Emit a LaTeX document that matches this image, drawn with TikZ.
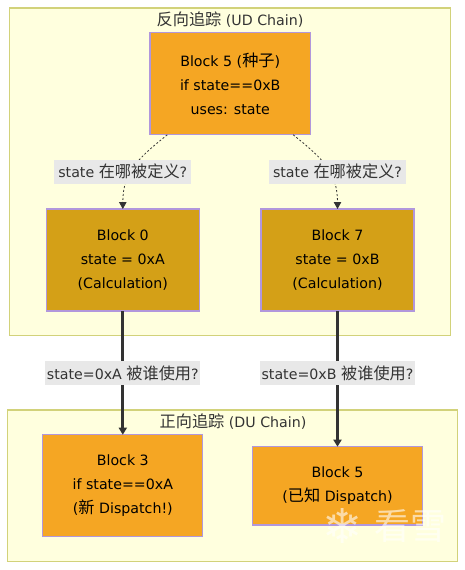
\documentclass[tikz,border=0pt]{standalone}
\usepackage{fontspec}
\setmainfont{DejaVu Sans}
\newfontfamily\cjk[Scale=1.14]{Noto Sans CJK SC}
\newfontfamily\markfont{Noto Sans CJK SC}
\usetikzlibrary{positioning,arrows.meta}
\definecolor{ChainFill}{HTML}{FFFFDE}
\definecolor{ChainLine}{HTML}{D2D27A}
\definecolor{SeedOrange}{HTML}{F5A623}
\definecolor{DefGold}{HTML}{D4A017}
\definecolor{BlockLine}{HTML}{B197DC}
\definecolor{EdgeGray}{HTML}{333333}
\definecolor{LabelGray}{HTML}{E8E8E8}

\begin{document}
\begin{tikzpicture}[
    x=1pt, y=-1pt,
    font=\fontsize{14.2}{24}\selectfont,
    chain/.style={
        rectangle, draw=ChainLine, fill=ChainFill,
        line width=1.2pt, inner sep=0pt, outer sep=0pt
    },
    title/.style={text=EdgeGray, inner sep=0pt},
    block/.style={
        rectangle, draw=BlockLine, fill=SeedOrange,
        line width=1.2pt, align=center, text=black,
        inner sep=0pt, outer sep=0pt, minimum height=102pt
    },
    defblock/.style={block, fill=DefGold, minimum width=153pt},
    asklabel/.style={
        rectangle, fill=LabelGray, text=EdgeGray,
        inner sep=0pt, minimum height=24pt
    },
    askarrow/.style={-{Triangle[length=7pt,width=7.5pt]}, EdgeGray, line width=0.8pt, dash pattern=on 2pt off 2pt},
    usearrow/.style={-{Triangle[length=7pt,width=8pt]}, EdgeGray, line width=3pt}
]
\useasboundingbox (0,0) rectangle (465,570);

\node[chain, minimum width=441pt, minimum height=327.5pt] (udchain) at (230,171.75) {};
\node[chain, minimum width=450pt, minimum height=151.7pt] (duchain) at (232.5,485.85) {};
\node[title] (udtitle) at (230,19.5) {{\cjk 反向追踪} (UD Chain)};
\node[title] (dutitle) at (233,421.7) {{\cjk 正向追踪} (DU Chain)};

\node[block, minimum width=160.5pt] (seed) at (230.25,83.8) {Block 5 ({\cjk 种子})\\if state==0xB\\uses: state};
\node[defblock] (blockA) at (122.8,260) {Block 0\\state = 0xA\\(Calculation)};
\node[defblock, right=61.7pt of blockA] (blockB) {Block 7\\state = 0xB\\(Calculation)};
\node[block, minimum width=160pt, below=123.7pt of blockA] (blockC) {Block 3\\if state==0xA\\({\cjk 新} Dispatch!)};
\node[block, minimum width=170.4pt, minimum height=78.3pt, below=135.7pt of blockB] (blockD) {Block 5\\({\cjk 已知} Dispatch)};

\draw[askarrow] (seed.219) to[out=219, in=90, looseness=1.1] (blockA.north);
\draw[askarrow] (seed.321) to[out=321, in=90, looseness=1.1] (blockB.north);
\draw[usearrow] (blockA) -- (blockC);
\draw[usearrow] (blockB) -- (blockD);

\node[asklabel, minimum width=137pt, above=25.3pt of blockA] (askA) {state {\cjk 在哪被定义}?};
\node[asklabel, minimum width=137pt, above=25.3pt of blockB] (askB) {state {\cjk 在哪被定义}?};
\node[asklabel, minimum width=154.7pt, below=49.7pt of blockA] (useA) {state=0xA {\cjk 被谁使用}?};
\node[asklabel, minimum width=154.7pt, below=49.7pt of blockB] (useB) {state=0xB {\cjk 被谁使用}?};

\node[text=white, opacity=0.6] (flake) at (343,526) {\fontsize{48}{48}\selectfont ❄};
\node[text=white, opacity=0.6, right=4pt of flake] (mark) {\fontsize{36}{36}\selectfont\markfont 看雪};
\end{tikzpicture}
\end{document}
